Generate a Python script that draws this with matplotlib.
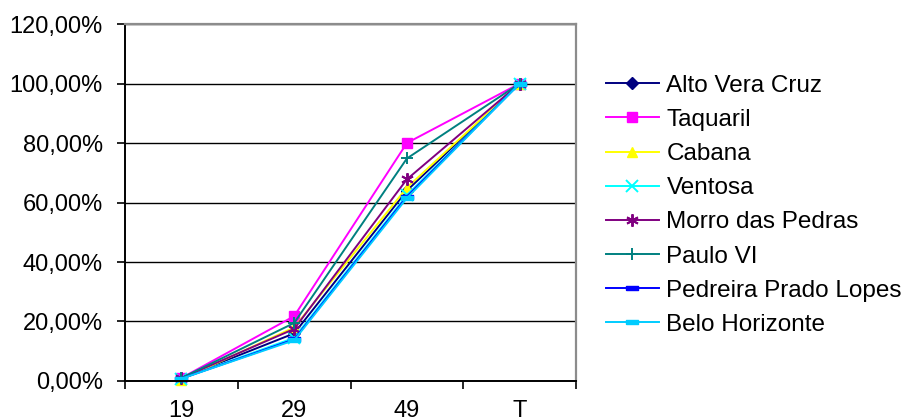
import matplotlib.pyplot as plt
from matplotlib.ticker import FixedLocator, FuncFormatter

plt.rcParams["font.family"] = ["Liberation Sans", "DejaVu Sans"]

categories = ["19", "29", "49", "T"]

alto_vera_cruz = [1.0, 16.0, 64.0, 100.0]
taquaril = [1.0, 21.8, 80.0, 100.0]
cabana = [0.5, 18.0, 65.0, 100.0]
ventosa = [0.8, 14.5, 62.5, 100.0]
morro_das_pedras = [1.0, 17.5, 67.8, 100.0]
paulo_vi = [1.0, 19.5, 74.8, 100.0]
pedreira_prado_lopes = [0.8, 14.0, 62.0, 100.0]
belo_horizonte = [0.8, 13.7, 61.5, 100.0]

y_ticks = [0, 20, 40, 60, 80, 100, 120]

# name, values, colour, marker
series = [
    ("Alto Vera Cruz", alto_vera_cruz, "#000080", "D"),
    ("Taquaril", taquaril, "#FF00FF", "s"),
    ("Cabana", cabana, "#FFFF00", "^"),
    ("Ventosa", ventosa, "#00FFFF", "x"),
    ("Morro das Pedras", morro_das_pedras, "#800080", (6, 2, 0)),
    ("Paulo VI", paulo_vi, "#008080", "+"),
    ("Pedreira Prado Lopes", pedreira_prado_lopes, "#0000FF", "dash"),
    ("Belo Horizonte", belo_horizonte, "#00CCFF", "dash"),
]

dash_marker = [(-1, -0.35), (1, -0.35), (1, 0.35), (-1, 0.35), (-1, -0.35)]

fig = plt.figure(figsize=(9.08, 4.19), dpi=100)
ax = fig.add_axes([0.1377, 0.0907, 0.4967, 0.852])

x = list(range(len(categories)))
for name, values, color, marker in series:
    m = dash_marker if marker == "dash" else marker
    size = 7
    mew = 1.0
    if marker in ("x", "+", (6, 2, 0)):
        size = 9
        mew = 1.4
    if marker == "dash":
        size = 9
    if marker == "D":
        size = 6
    ax.plot(x, values, color=color, linewidth=1.4, marker=m,
            markersize=size, markeredgewidth=mew, markerfacecolor=color,
            markeredgecolor=color, label=name, clip_on=False)

ax.set_xlim(-0.5, len(categories) - 0.5)
ax.set_ylim(0, 120)

ax.set_yticks(y_ticks)
ax.yaxis.set_major_formatter(
    FuncFormatter(lambda v, p: f"{v:.2f}%".replace(".", ",")))
ax.grid(axis="y", color="black", linewidth=1.0)

ax.set_xticks(x)
ax.set_xticklabels(categories)
ax.xaxis.set_minor_locator(FixedLocator([i - 0.5 for i in range(len(categories) + 1)]))
ax.tick_params(axis="x", which="major", length=0, pad=14, labelsize=17)
ax.tick_params(axis="x", which="minor", length=6, width=1.2, direction="out")
ax.tick_params(axis="y", length=6, width=1.2, pad=10, labelsize=17)

for side in ("top", "right"):
    ax.spines[side].set_color("#8c8c8c")
    ax.spines[side].set_linewidth(1.6)
for side in ("left", "bottom"):
    ax.spines[side].set_color("black")
    ax.spines[side].set_linewidth(1.4)

ax.legend(loc="center left", bbox_to_anchor=(0.667, 0.51),
          bbox_transform=fig.transFigure, frameon=False, fontsize=17.5,
          handlelength=2.2, handletextpad=0.3, labelspacing=0.5,
          borderpad=0, borderaxespad=0)

fig.savefig("out.png", dpi=100)
